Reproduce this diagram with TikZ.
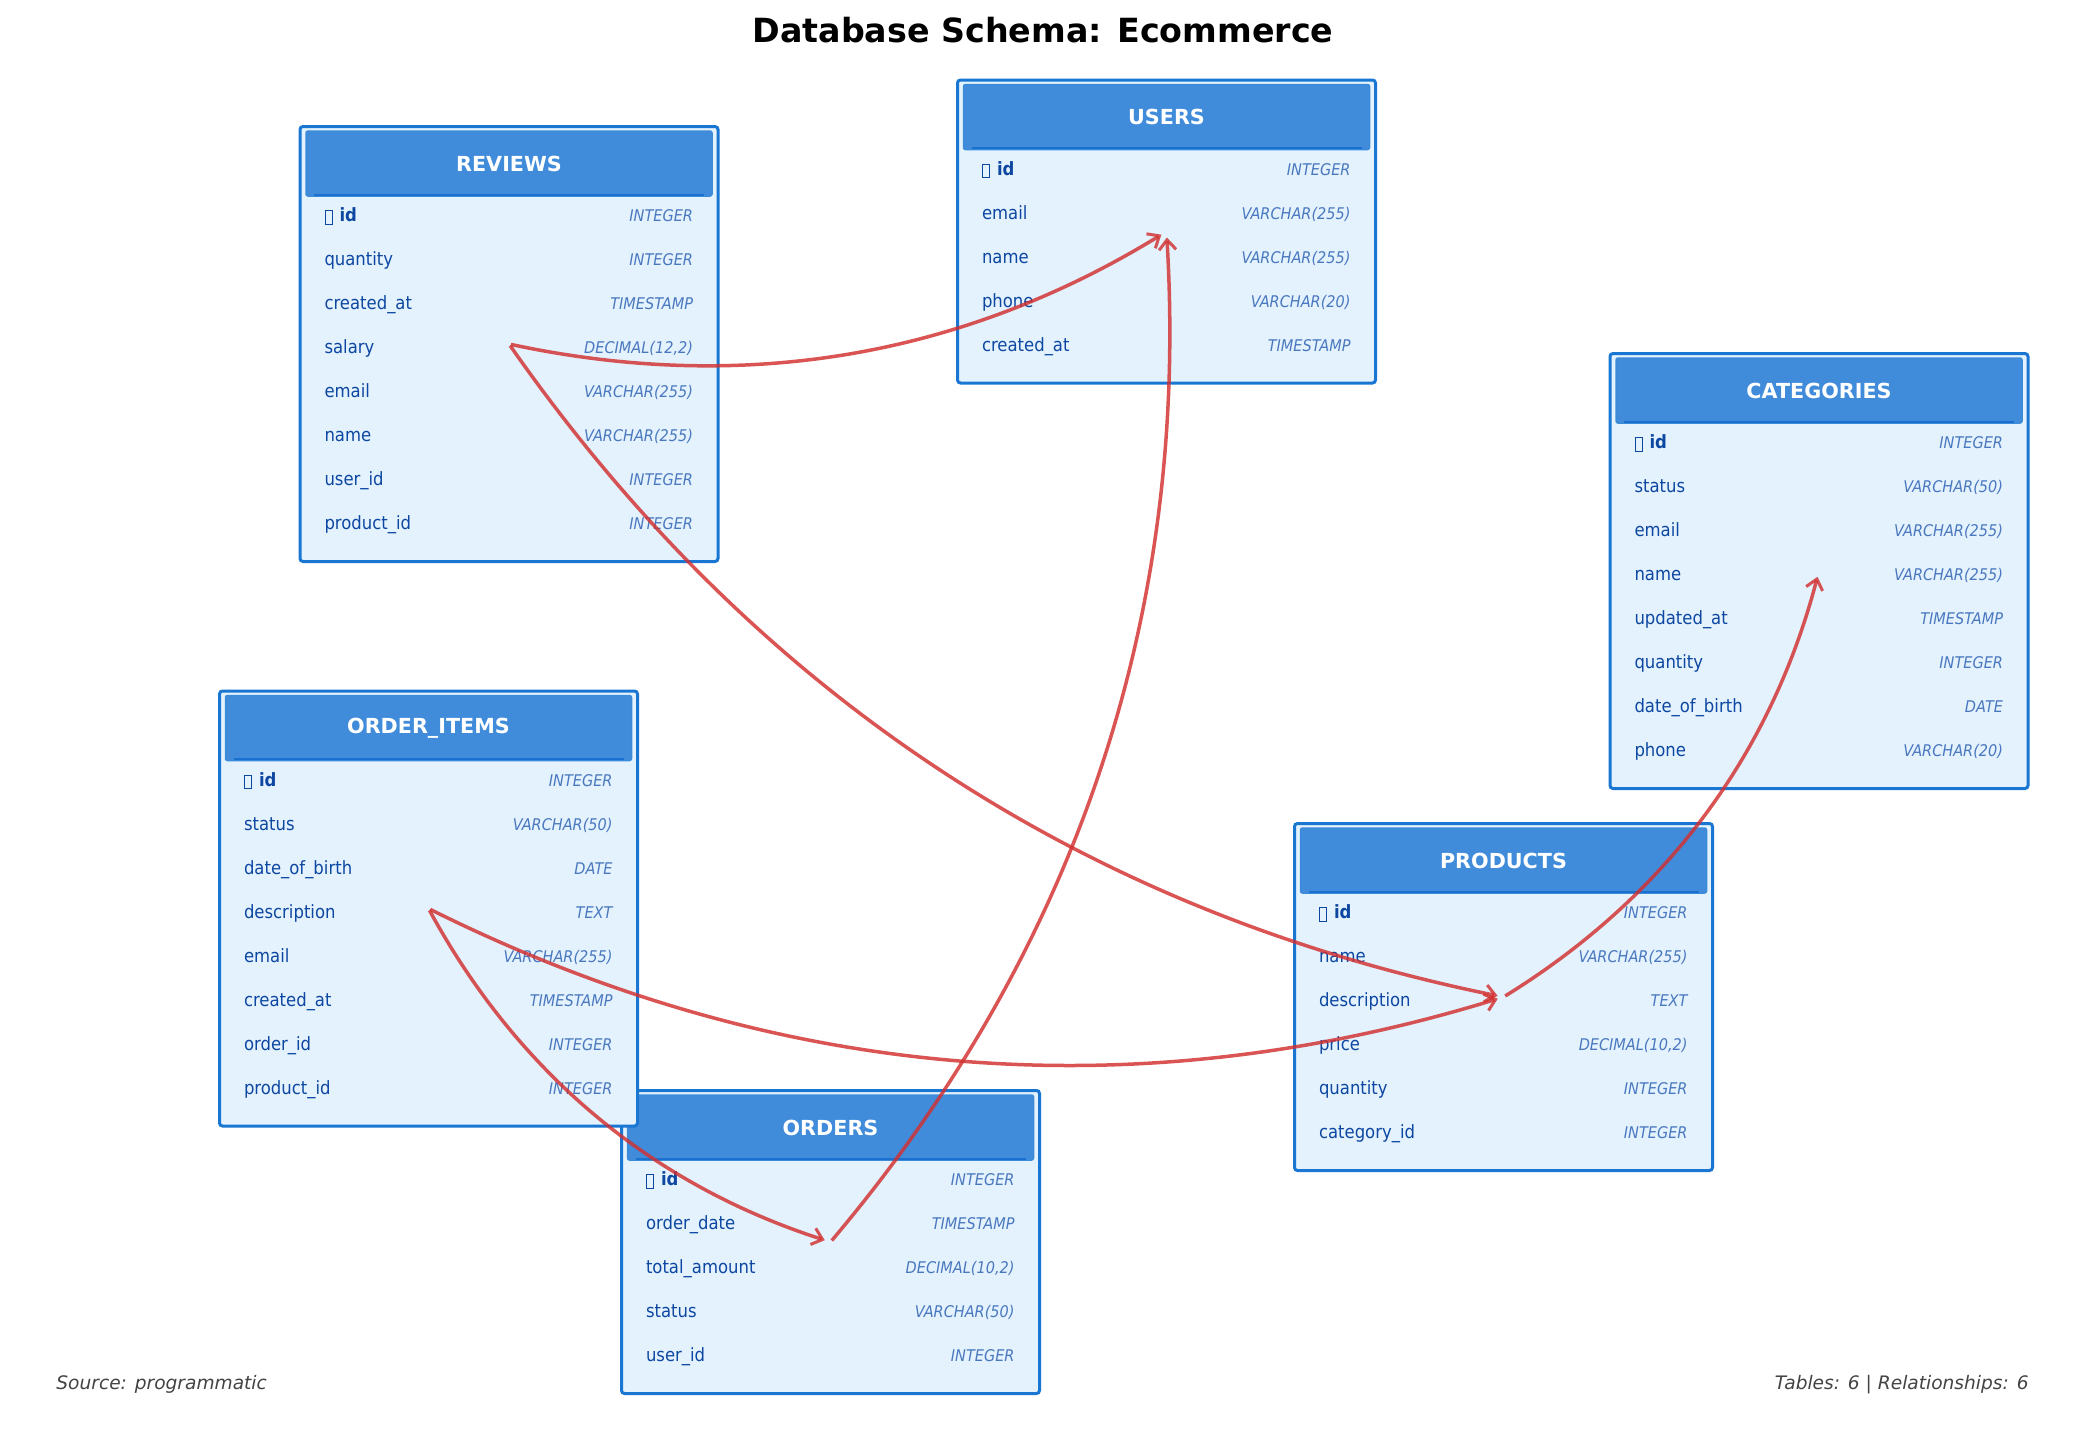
\documentclass[tikz,border=0pt]{standalone}
\usepackage{fontspec}
\setmainfont{DejaVu Sans}
\newfontfamily\rowfont[FakeStretch=0.9]{DejaVu Sans}
\newfontfamily\typefont[FakeStretch=0.9]{DejaVu Sans}
\usetikzlibrary{arrows.meta,calc}
\definecolor{edgeblue}{HTML}{1976D2}
\definecolor{bodyblue}{HTML}{E3F2FD}
\definecolor{headblue}{HTML}{408CDB}
\definecolor{headline}{HTML}{1A70CF}
\definecolor{namecol}{HTML}{0D47A1}
\definecolor{typecol}{HTML}{4A78BF}
\definecolor{relcol}{HTML}{D32F2F}
\definecolor{footcol}{HTML}{444444}
\tikzset{
  tablebox/.style={draw=edgeblue,fill=bodyblue,line width=1.5pt,rounded corners=1.5pt,inner sep=0,outer sep=0,minimum width=209pt},
  headbox/.style={draw=edgeblue!85!white,fill=headblue,line width=.75pt,rounded corners=1pt,inner sep=0,outer sep=0,minimum width=203pt,minimum height=32.5pt,text=white,font=\fontsize{10.35}{13}\selectfont\bfseries},
  headrule/.style={draw=headline,line width=1.1pt},
  fieldname/.style={anchor=base west,inner sep=0,outer sep=0,text=namecol,font=\rowfont\fontsize{9.15}{11}\selectfont},
  fieldtype/.style={anchor=base east,inner sep=0,outer sep=0,text=typecol,font=\typefont\fontsize{8.05}{9}\selectfont\itshape},
  rel/.style={draw=relcol,draw opacity=.82,line width=1.75pt,-{Straight Barb[length=5pt,width=8.5pt,line width=1.5pt]},shorten >=3pt,shorten <=1pt},
  titletext/.style={inner sep=0,anchor=base,font=\fontsize{16.65}{20}\selectfont\bfseries},
  foottext/.style={inner sep=0,text=footcol,font=\fontsize{9.3}{12}\selectfont\itshape}
}
\newcommand{\tofu}{{\setlength{\fboxrule}{.5pt}\setlength{\fboxsep}{0pt}\raisebox{-1.2pt}{\fbox{\rule{0pt}{6.3pt}\hspace{3.2pt}}}}}
\newcommand{\keyid}{\bfseries\tofu\hspace{3.3pt}id}
\newcommand{\tbl}[6]{%
  \pgfmathsetmacro{\tblH}{83+44*#5}
  \node[tablebox,minimum height=\tblH*0.5pt] (#1) at ({#3+209},{#4-.5+\tblH/2}) {};
  \node[headbox] (#1-h) at ({#3+209},{#4+36.5}) {#2};
  \draw[headrule] ([xshift=4pt,yshift=.6pt]#1-h.south west) -- ([xshift=-4pt,yshift=.6pt]#1-h.south east);
  \foreach \f/\t [count=\i] in {#6} {
    \node[fieldname] (#1-n\i) at ({#3+24.5},{#4+94.5+44*(\i-1)}) {\f};
    \node[fieldtype] (#1-t\i) at ({#3+393},{#4+94.5+44*(\i-1)}) {\t};
  }
}
\newcommand{\relarc}[2]{%
  \draw[rel] let \p1=(#1.center), \p2=(#2.center) in (#1.center) .. controls
    ({\x1+(\x2-\x1)/3+.13333*(\y2-\y1)},{\y1+(\y2-\y1)/3-.13333*(\x2-\x1)}) and
    ({\x2-(\x2-\x1)/3+.13333*(\y2-\y1)},{\y2-(\y2-\y1)/3-.13333*(\x2-\x1)}) .. (#2.center);
}
\begin{document}
\begin{tikzpicture}[x=0.5pt,y=-0.5pt]
\useasboundingbox[fill=white] (0,0) rectangle (2085,1432);
\node[titletext] (title) at (1043,42) {Database Schema: Ecommerce};
\tbl{orders}{ORDERS}{621.5}{1091}{5}{\keyid/INTEGER,order\_date/TIMESTAMP,total\_amount/{DECIMAL(10,2)},status/VARCHAR(50),user\_id/INTEGER}
\tbl{reviews}{REVIEWS}{300}{127}{8}{\keyid/INTEGER,quantity/INTEGER,created\_at/TIMESTAMP,salary/{DECIMAL(12,2)},email/VARCHAR(255),name/VARCHAR(255),user\_id/INTEGER,product\_id/INTEGER}
\tbl{users}{USERS}{957.5}{80.5}{5}{\keyid/INTEGER,email/VARCHAR(255),name/VARCHAR(255),phone/VARCHAR(20),created\_at/TIMESTAMP}
\tbl{categories}{CATEGORIES}{1610}{354}{8}{\keyid/INTEGER,status/VARCHAR(50),email/VARCHAR(255),name/VARCHAR(255),updated\_at/TIMESTAMP,quantity/INTEGER,date\_of\_birth/DATE,phone/VARCHAR(20)}
\tbl{items}{ORDER\_ITEMS}{219.5}{691.5}{8}{\keyid/INTEGER,status/VARCHAR(50),date\_of\_birth/DATE,description/TEXT,email/VARCHAR(255),created\_at/TIMESTAMP,order\_id/INTEGER,product\_id/INTEGER}
\tbl{products}{PRODUCTS}{1294.5}{824}{6}{\keyid/INTEGER,name/VARCHAR(255),description/TEXT,price/{DECIMAL(10,2)},quantity/INTEGER,category\_id/INTEGER}
\relarc{reviews}{users}
\relarc{reviews}{products}
\relarc{items}{products}
\relarc{items}{orders}
\relarc{orders}{users}
\relarc{products}{categories}
\node[foottext,anchor=base west] (source) at (56,1389) {Source: programmatic};
\node[foottext,anchor=base east] (stats) at (2029,1389) {Tables: 6 | Relationships: 6};
\end{tikzpicture}
\end{document}
